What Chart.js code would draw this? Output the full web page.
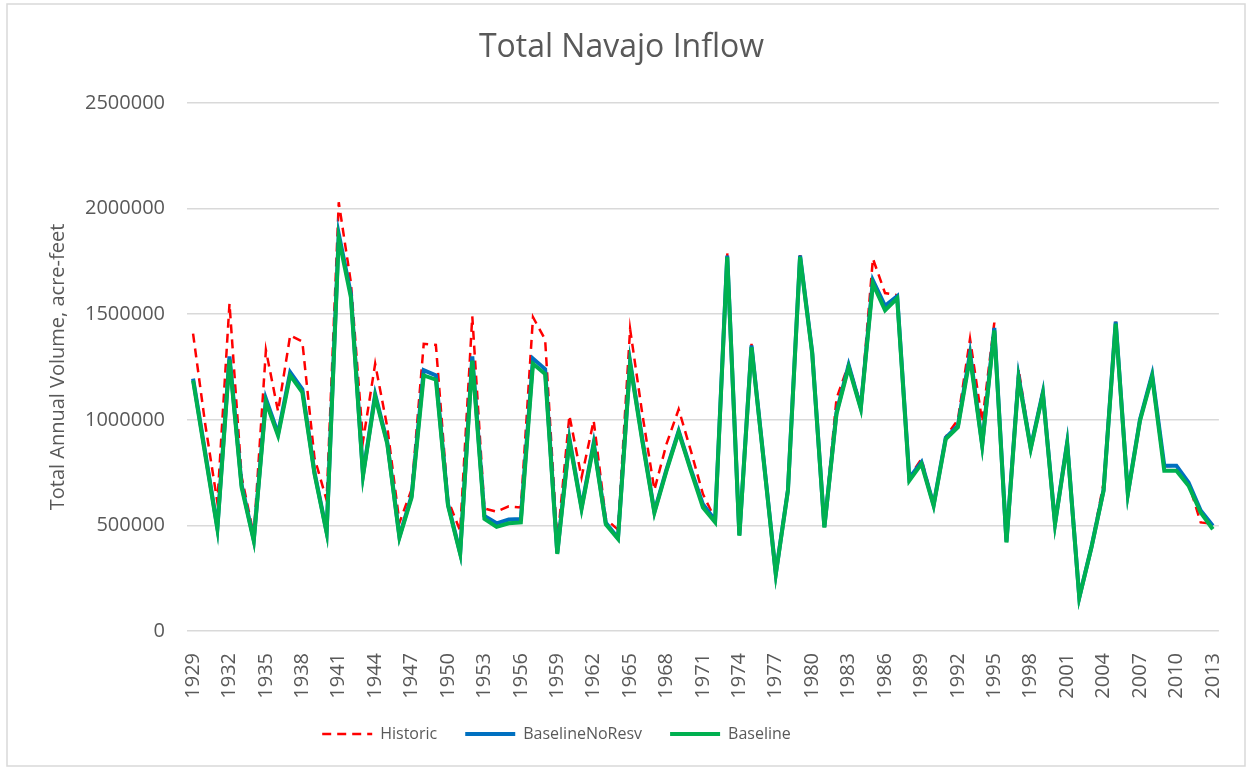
<!DOCTYPE html>
<html>
<head>
<meta charset="utf-8">
<title>Total Navajo Inflow</title>
<script src="https://cdn.jsdelivr.net/npm/chart.js@4"></script>
<style>
  html, body { margin: 0; padding: 0; background: #fff; }
  #wrap { width: 1251px; height: 770px; position: relative; }
</style>
</head>
<body>
<div id="wrap"><canvas id="chart" width="1251" height="770"></canvas></div>
<script>
  // water years on the category axis
  const years = [];
  for (let y = 1929; y <= 2013; y++) years.push(String(y));

  // annual volumes, acre-feet
  const historic = [
    1408000, 980000, 610000, 1550000, 730000, 455000, 1330000, 1040000, 1400000, 1370000,
    820000, 620000, 2030000, 1650000, 900000, 1265000, 965000, 513000, 670000, 1360000,
    1355000, 620000, 474000, 1490000, 580000, 565000, 590000, 585000, 1486000, 1380000,
    420000, 1020000, 727000, 996000, 530000, 480000, 1430000, 1030000, 668000, 886000,
    1050000, 854000, 648000, 530000, 1790000, 460000, 1360000, 820000, 275000, 680000,
    1780000, 1320000, 495000, 1100000, 1265000, 1070000, 1763000, 1600000, 1590000, 730000,
    815000, 600000, 920000, 1000000, 1384000, 990000, 1460000, 425000, 1240000, 870000,
    1140000, 510000, 895000, 160000, 400000, 700000, 1465000, 650000, 1000000, 1220000,
    780000, 783000, 700000, 514000, 507000
  ];

  const baselineNoResv = [
    1195000, 845000, 490000, 1300000, 690000, 432000, 1100000, 935000, 1225000, 1145000,
    752000, 470000, 1880000, 1595000, 742000, 1120000, 892000, 448000, 640000, 1235000,
    1210000, 600000, 370000, 1300000, 545000, 510000, 528000, 530000, 1290000, 1240000,
    370000, 910000, 585000, 890000, 512000, 440000, 1275000, 910000, 566000, 765000,
    948000, 766000, 600000, 525000, 1778000, 455000, 1352000, 812000, 272000, 668000,
    1778000, 1320000, 494000, 1035000, 1260000, 1058000, 1660000, 1540000, 1585000, 725000,
    800000, 598000, 915000, 972000, 1315000, 884000, 1435000, 423000, 1205000, 868000,
    1130000, 510000, 892000, 160000, 398000, 668000, 1465000, 652000, 1002000, 1215000,
    783000, 783000, 703000, 570000, 498000
  ];

  const baseline = [
    1186000, 835000, 484000, 1285000, 680000, 427000, 1085000, 925000, 1210000, 1130000,
    745000, 466000, 1860000, 1580000, 735000, 1110000, 885000, 443000, 632000, 1210000,
    1190000, 593000, 365000, 1280000, 531000, 493000, 510000, 514000, 1265000, 1217000,
    365000, 900000, 578000, 880000, 505000, 436000, 1265000, 900000, 560000, 759000,
    941000, 759000, 585000, 515000, 1771000, 451000, 1344000, 806000, 269000, 664000,
    1771000, 1313000, 490000, 1028000, 1249000, 1052000, 1645000, 1518000, 1575000, 712000,
    791000, 593000, 909000, 965000, 1297000, 878000, 1423000, 419000, 1194000, 862000,
    1123000, 506000, 886000, 158000, 395000, 664000, 1455000, 648000, 996000, 1205000,
    759000, 759000, 688000, 561000, 482000
  ];

  const yTicks = [0, 500000, 1000000, 1500000, 2000000, 2500000];

  Chart.defaults.font.family = "'Open Sans', sans-serif";
  Chart.defaults.color = '#595959';

  // thin grey frame like the spreadsheet chart object
  const frame = {
    id: 'frame',
    beforeDraw(chart) {
      const c = chart.ctx;
      c.save();
      c.strokeStyle = '#d9d9d9';
      c.lineWidth = 1.5;
      c.strokeRect(7, 4, chart.width - 13, chart.height - 8);
      c.restore();
    }
  };

  // the legend in the original sits left of centre
  const legendShift = {
    id: 'legendShift',
    afterLayout(chart) {
      chart.legend.left -= 65;
      chart.legend.right -= 65;
    }
  };

  // legend samples: take dash and width from the line, not the point
  function legendLabels(chart) {
    const items = Chart.defaults.plugins.legend.labels.generateLabels(chart);
    items.forEach(it => {
      const ds = chart.data.datasets[it.datasetIndex];
      it.lineDash = ds.borderDash || [];
      it.lineWidth = ds.borderWidth;
      it.strokeStyle = ds.borderColor;
    });
    return items.sort((a, b) => a.datasetIndex - b.datasetIndex);
  }

  new Chart(document.getElementById('chart'), {
    type: 'line',
    data: {
      labels: years,
      datasets: [
        {
          label: 'Historic',
          data: historic,
          borderColor: '#ff0000',
          backgroundColor: '#ff0000',
          borderWidth: 2.5,
          borderDash: [9, 6],
          order: 3
        },
        {
          label: 'BaselineNoResv',
          data: baselineNoResv,
          borderColor: '#0070c0',
          backgroundColor: '#0070c0',
          borderWidth: 4,
          order: 2
        },
        {
          label: 'Baseline',
          data: baseline,
          borderColor: '#00b050',
          backgroundColor: '#00b050',
          borderWidth: 4,
          order: 1
        }
      ]
    },
    options: {
      responsive: false,
      animation: false,
      elements: { point: { radius: 0 }, line: { tension: 0 } },
      layout: { padding: { left: 20, right: 28, top: 10, bottom: 18 } },
      plugins: {
        title: {
          display: true,
          text: 'Total Navajo Inflow',
          font: { size: 32, weight: 'normal' },
          color: '#595959',
          padding: { top: 19, bottom: 35.6 }
        },
        legend: {
          position: 'bottom',
          labels: {
            usePointStyle: true,
            pointStyle: 'line',
            pointStyleWidth: 50,
            boxHeight: 16,
            padding: 28,
            font: { size: 16 },
            color: '#595959',
            generateLabels: legendLabels
          }
        },
        tooltip: { enabled: false }
      },
      scales: {
        x: {
          offset: true,
          grid: { display: false },
          border: { display: false },
          ticks: {
            autoSkip: false,
            minRotation: 90,
            maxRotation: 90,
            padding: 14,
            font: { size: 20 },
            callback: function (v, i) { return i % 3 === 0 ? this.getLabelForValue(v) : ''; }
          },
          afterFit: s => { s.height = 67; }
        },
        y: {
          min: 0,
          max: 2500000,
          afterBuildTicks: s => { s.ticks = yTicks.map(v => ({ value: v })); },
          grid: { color: '#d9d9d9', lineWidth: 1.5, drawTicks: false },
          border: { display: false },
          ticks: { padding: 22, font: { size: 20 }, callback: v => String(v) },
          title: {
            display: true,
            text: 'Total Annual Volume, acre-feet',
            font: { size: 20 },
            color: '#595959',
            padding: { top: 26, bottom: 0 }
          },
          afterFit: s => { s.width = 167; }
        }
      }
    },
    plugins: [frame, legendShift]
  });
</script>
</body>
</html>
